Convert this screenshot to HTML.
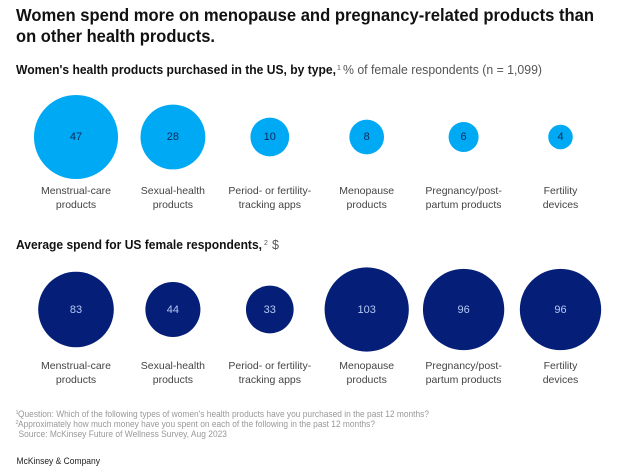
<!DOCTYPE html>
<html lang="en">
<head>
<meta charset="utf-8">
<title>Women's health products chart</title>
<style>
html,body{margin:0;padding:0;background:#fff;}
svg{display:block;font-family:"Liberation Sans",sans-serif;}
</style>
</head>
<body>
<svg id="chart" width="630" height="472" viewBox="0 0 630 472" xmlns="http://www.w3.org/2000/svg">
  <rect width="630" height="472" fill="#fff"/>
  <text x="16" y="21" font-size="17.5" font-weight="700" fill="#111" textLength="578" lengthAdjust="spacingAndGlyphs">Women spend more on menopause and pregnancy-related products than</text>
  <text x="16" y="42" font-size="17.5" font-weight="700" fill="#111" textLength="199" lengthAdjust="spacingAndGlyphs">on other health products.</text>

  <text x="16" y="74" font-size="12.5" font-weight="700" fill="#111" textLength="320" lengthAdjust="spacingAndGlyphs">Women's health products purchased in the US, by type,</text>
  <text x="337" y="70" font-size="7" fill="#555">1</text>
  <text x="343" y="74" font-size="12.5" fill="#555" textLength="199" lengthAdjust="spacingAndGlyphs">% of female respondents (n = 1,099)</text>

  <text x="16" y="249" font-size="12.5" font-weight="700" fill="#111" textLength="246" lengthAdjust="spacingAndGlyphs">Average spend for US female respondents,</text>
  <text x="264" y="245" font-size="7" fill="#555">2</text>
  <text x="272" y="249" font-size="12.5" fill="#555">$</text>

  <g id="marks"></g>

  <g font-size="9" fill="#999">
    <text x="15.5" y="414" font-size="5.5">1</text>
    <text x="18" y="417" textLength="411" lengthAdjust="spacingAndGlyphs">Question: Which of the following types of women's health products have you purchased in the past 12 months?</text>
    <text x="15.5" y="424" font-size="5.5">2</text>
    <text x="18" y="427" textLength="357" lengthAdjust="spacingAndGlyphs">Approximately how much money have you spent on each of the following in the past 12 months?</text>
    <text x="18.5" y="437" textLength="208.5" lengthAdjust="spacingAndGlyphs">Source: McKinsey Future of Wellness Survey, Aug 2023</text>
  </g>
  <text x="16.5" y="464" font-size="9.5" fill="#222" textLength="83.5" lengthAdjust="spacingAndGlyphs">McKinsey &amp; Company</text>
</svg>
<script>
const categoryLinesA = ["Menstrual-care", "Sexual-health", "Period- or fertility-", "Menopause", "Pregnancy/post-", "Fertility"];
const categoryLinesB = ["products", "products", "tracking apps", "products", "partum products", "devices"];
const purchasedShare = [47, 28, 10, 8, 6, 4];
const averageSpend = [83, 44, 33, 103, 96, 96];

const NS = "http://www.w3.org/2000/svg";
const marks = document.getElementById("marks");
const xScale = i => 76 + i * 96.9;
const rTop = v => 6.13 * Math.sqrt(v);
const rBottom = v => 4.15 * Math.sqrt(v);

function addText(x, y, str, size, fill) {
  const t = document.createElementNS(NS, "text");
  t.setAttribute("x", x);
  t.setAttribute("y", y);
  t.setAttribute("text-anchor", "middle");
  t.setAttribute("font-size", size);
  t.setAttribute("fill", fill);
  t.textContent = str;
  marks.appendChild(t);
  return t;
}

function addCircle(cx, cy, r, fill) {
  const c = document.createElementNS(NS, "circle");
  c.setAttribute("cx", cx);
  c.setAttribute("cy", cy);
  c.setAttribute("r", r);
  c.setAttribute("fill", fill);
  marks.appendChild(c);
  return c;
}

purchasedShare.forEach((v, i) => {
  const cx = xScale(i);
  const c = addCircle(cx, 137, rTop(v), "#00A9F4");
  
  
  const val = addText(cx, 140, String(v), 11, "#0b2a5c");
  
  
  const a = addText(cx, 194, categoryLinesA[i], 10.5, "#444");
  
  
  const b = addText(cx, 208, categoryLinesB[i], 10.5, "#444");
  
  
});

averageSpend.forEach((v, i) => {
  const cx = xScale(i);
  const c = addCircle(cx, 309.5, rBottom(v), "#051F78");
  
  
  const val = addText(cx, 313, String(v), 11, "#B5C8F5");
  
  
  const a = addText(cx, 369, categoryLinesA[i], 10.5, "#444");
  
  
  const b = addText(cx, 383, categoryLinesB[i], 10.5, "#444");
  
  
});
</script>
</body>
</html>
